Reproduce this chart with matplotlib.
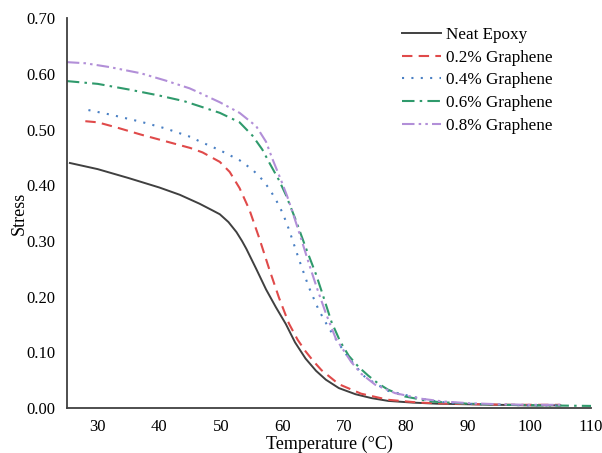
# Stress vs temperature for epoxy / graphene samples

import matplotlib.pyplot as plt

plt.rcParams['font.family'] = ['Liberation Serif', 'DejaVu Serif']

t_neat = [25.5, 30, 35, 40, 43.3, 46.5, 48.6, 49.8, 51.2, 52.5, 53.4, 54.1, 55.7, 57.3, 58.9,
          60.5, 62, 63.7, 65.4, 67, 69.1, 71.8, 74.4, 77.1, 81, 85, 90, 95, 100, 105]
s_neat = [0.44, 0.429, 0.413, 0.396, 0.383, 0.367, 0.355, 0.348, 0.334, 0.316, 0.300, 0.286,
          0.250, 0.213, 0.181, 0.151, 0.118, 0.089, 0.067, 0.051, 0.036, 0.025, 0.018, 0.013,
          0.010, 0.008, 0.007, 0.006, 0.005, 0.005]

t_02 = [28, 30, 33, 37, 41, 45, 47, 49.8, 51.4, 53, 54.6, 56.2, 57.8, 59.4, 61, 62.4, 63.7,
        65, 66.3, 69.1, 72.7, 77.1, 82, 87, 92, 97, 102, 105]
s_02 = [0.515, 0.513, 0.504, 0.491, 0.479, 0.467, 0.459, 0.442, 0.424, 0.395, 0.356, 0.305,
        0.250, 0.198, 0.152, 0.123, 0.102, 0.084, 0.068, 0.043, 0.026, 0.015, 0.010, 0.008,
        0.007, 0.006, 0.006, 0.006]

t_04 = [28.5, 32, 37, 41, 45, 46.5, 49.8, 53, 55.1, 56.7, 57.8, 58.9, 60, 61, 62.6, 64.2,
        65.8, 67.4, 69, 70.7, 73.4, 77.1, 82.4, 85.6, 90, 95, 100, 105]
s_04 = [0.535, 0.527, 0.514, 0.502, 0.487, 0.479, 0.463, 0.445, 0.428, 0.410, 0.394, 0.374,
        0.350, 0.321, 0.268, 0.218, 0.177, 0.145, 0.117, 0.090, 0.055, 0.031, 0.017, 0.011,
        0.008, 0.006, 0.005, 0.005]

t_06 = [25, 30, 35, 40, 44, 46.5, 49.8, 53, 55.1, 56.7, 57.8, 59.4, 60.5, 62.1, 63.7, 65.4,
        66.3, 67.9, 69.3, 70.7, 72.3, 73.9, 75.5, 77.1, 79.8, 84, 90, 96, 102, 110]
s_06 = [0.587, 0.582, 0.572, 0.561, 0.551, 0.542, 0.530, 0.513, 0.489, 0.464, 0.441, 0.409,
        0.383, 0.338, 0.289, 0.240, 0.210, 0.155, 0.120, 0.094, 0.074, 0.058, 0.044, 0.033,
        0.021, 0.012, 0.008, 0.006, 0.005, 0.004]

t_08 = [25, 28, 32, 37, 41, 44.9, 46.5, 49.8, 53, 55.7, 57.3, 58.3, 59.7, 60.7, 61.5, 62.9,
        64.2, 65.5, 67, 68.6, 71.1, 72.7, 75, 78.2, 82.4, 86, 90, 95, 100, 105]
s_08 = [0.621, 0.619, 0.612, 0.601, 0.588, 0.574, 0.566, 0.549, 0.530, 0.506, 0.478, 0.448,
        0.410, 0.381, 0.355, 0.307, 0.261, 0.217, 0.170, 0.125, 0.083, 0.062, 0.042, 0.027,
        0.017, 0.012, 0.009, 0.007, 0.006, 0.006]

x_ticks = [30, 40, 50, 60, 70, 80, 90, 100, 110]
y_ticks = [0.0, 0.1, 0.2, 0.3, 0.4, 0.5, 0.6, 0.7]

fig = plt.figure(figsize=(6.02, 4.53), dpi=100)
ax = fig.add_axes([0.111, 0.099, 0.871, 0.861])

ax.plot(t_neat, s_neat, color="#404040", lw=1.4, label="Neat Epoxy")
ax.plot(t_02, s_02, color="#e04a4a", lw=1.5, dashes=(5, 3), label="0.2% Graphene")
ax.plot(t_04, s_04, color="#4a80c4", lw=1.5, dashes=(1, 3.5), label="0.4% Graphene")
ax.plot(t_06, s_06, color="#2f9a6c", lw=1.5, dashes=(6, 2.5, 1.2, 2.5), label="0.6% Graphene")
ax.plot(t_08, s_08, color="#b28fd8", lw=1.5, dashes=(6, 2, 1.2, 2, 1.2, 2), label="0.8% Graphene")

ax.set_xlim(25, 110)
ax.set_ylim(0, 0.7)
ax.set_xticks(x_ticks)
ax.set_yticks(y_ticks)
ax.set_yticklabels(["%.2f" % v for v in y_ticks])
ax.tick_params(length=0, labelsize=12, pad=8)
ax.set_xlabel("Temperature (°C)", fontsize=13, labelpad=0)
ax.set_ylabel("Stress", fontsize=13, labelpad=-1)

for side in ["top", "right"]:
    ax.spines[side].set_visible(False)
for side in ["left", "bottom"]:
    ax.spines[side].set_color("#404040")
    ax.spines[side].set_linewidth(1.3)

ax.legend(loc="upper left", bbox_to_anchor=(0.656, 0.956), bbox_transform=fig.transFigure,
          borderaxespad=0, frameon=False, fontsize=12.3, handlelength=2.3,
          handletextpad=0.3, labelspacing=0.4)

fig.savefig("out.png")
